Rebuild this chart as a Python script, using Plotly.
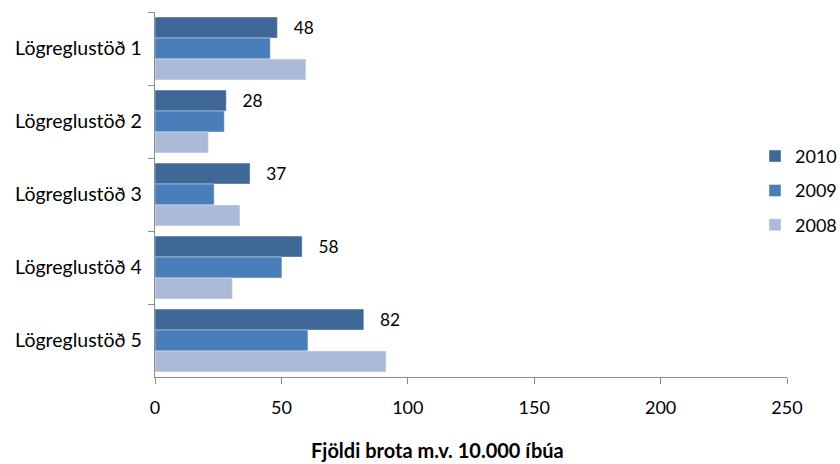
import plotly.graph_objects as go

categories = ["Lögreglustöð 1", "Lögreglustöð 2", "Lögreglustöð 3", "Lögreglustöð 4", "Lögreglustöð 5"]
years = ["2010", "2009", "2008"]
values_2010 = [48.4, 28.2, 37.6, 58.2, 82.6]
values_2009 = [45.6, 27.4, 23.4, 50.2, 60.5]
values_2008 = [59.7, 21.1, 33.6, 30.6, 91.4]
labels_2010 = ["48", "28", "37", "58", "82"]
x_ticks = [0, 50, 100, 150, 200, 250]
colors = ["#3F6797", "#4A7EBB", "#AABAD7"]

FONT = "Lato, Carlito, 'Open Sans', sans-serif"

fig = go.Figure()
series = [values_2010, values_2009, values_2008]
for i, (yr, vals, col) in enumerate(zip(years, series, colors)):
    kw = {}
    if i == 0:
        kw = dict(text=labels_2010, texttemplate="   %{text}", textposition="outside",
                  textfont=dict(size=19, color="#000000", family=FONT), cliponaxis=False)
    fig.add_trace(go.Bar(
        y=categories, x=vals, name=yr, orientation="h",
        marker=dict(color=col, line=dict(color="rgba(255,255,255,0.5)", width=0.8)),
        legendgroup=yr, **kw))

fig.update_layout(
    width=840, height=464,
    margin=dict(l=155, r=53, t=12, b=87, autoexpand=False),
    paper_bgcolor="white", plot_bgcolor="white",
    barmode="group", bargap=0.14, bargroupgap=0,
    font=dict(family=FONT, size=18, color="#000000"),
    showlegend=True,
    legend=dict(x=(755 - 155) / 632, y=0.51, xanchor="left", yanchor="middle",
                tracegroupgap=8, font=dict(size=18, family=FONT),
                bgcolor="rgba(0,0,0,0)", itemwidth=30),
    xaxis=dict(range=[0, 250], tickvals=x_ticks, showgrid=False, zeroline=False,
               showline=True, linecolor="#8C8C8C", linewidth=1.3,
               ticks="outside", ticklen=6, tickcolor="#8C8C8C",
               tickfont=dict(size=18), ticklabelstandoff=8, fixedrange=True),
    yaxis=dict(autorange="reversed", showgrid=False, showline=True,
               linecolor="#8C8C8C", linewidth=1.3,
               ticks="outside", ticklen=6, tickcolor="#8C8C8C", tickson="boundaries",
               tickfont=dict(size=19.5), ticklabelstandoff=8),
    annotations=[dict(text="<b>Fjöldi brota m.v. 10.000 íbúa</b>", xref="paper", yref="paper",
                      x=(437 - 155) / 632, y=(377 - 450) / 365, xanchor="center", yanchor="middle",
                      showarrow=False, font=dict(size=20, family=FONT))],
)

fig.write_html("out.html", config={"displayModeBar": False},
               post_script="document.body.style.margin='0';document.body.style.overflow='hidden';")
